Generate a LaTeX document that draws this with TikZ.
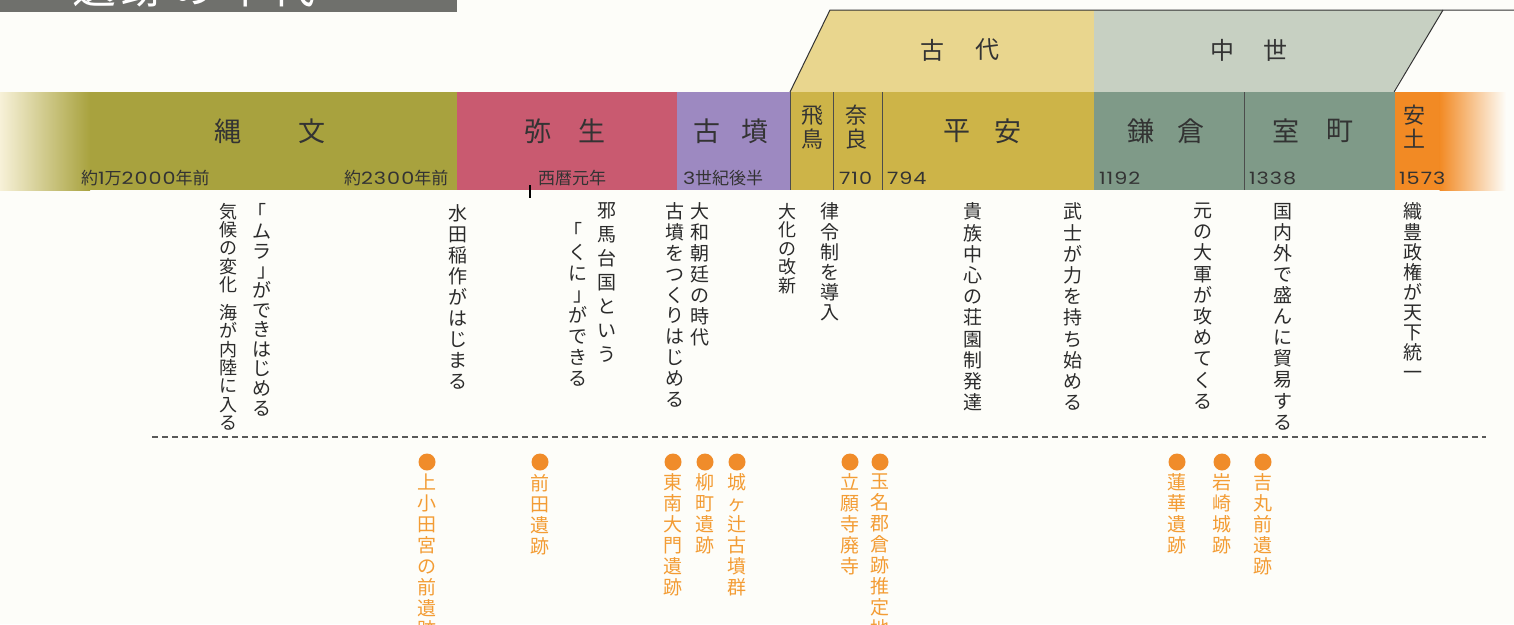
\documentclass[tikz,border=0pt]{standalone}
\usepackage{graphicx}
\usepackage{fontspec}
\newfontfamily\jp{Noto Sans CJK JP}
\newfontfamily\dig{Poppins}[LetterSpace=5]
\newcommand\yd[1]{\scalebox{1.22}[1]{\dig #1}}
\newcommand\lbr{\kern-0.5em「}
\newcommand\rbr{」\kern-0.5em}
\definecolor{bg}{HTML}{FDFDF9}
\definecolor{hdr}{HTML}{6F706C}
\definecolor{jomon}{HTML}{A8A23E}
\definecolor{jomonfade}{HTML}{F7F1D8}
\definecolor{yayoi}{HTML}{C95A70}
\definecolor{kofun}{HTML}{9D89C1}
\definecolor{kodai}{HTML}{CDB448}
\definecolor{chusei}{HTML}{7F9A88}
\definecolor{azuchi}{HTML}{F28A24}
\definecolor{kodaitop}{HTML}{E9D68E}
\definecolor{chuseitop}{HTML}{C7D0C2}
\definecolor{txt}{HTML}{333333}
\definecolor{vtxt}{HTML}{2B2B2B}
\definecolor{site}{HTML}{F39C34}
\definecolor{sitedot}{HTML}{F08C2A}
\begin{document}
\begin{tikzpicture}[x=1pt,y=-1pt,
  every node/.style={inner sep=0pt, outer sep=0pt},
  pname/.style={font=\jp\fontsize{27}{27}\selectfont, text=txt},
  pvert/.style={font=\jp\fontsize{22}{24}\selectfont, text=txt, align=center},
  eraname/.style={font=\jp\fontsize{24}{24}\selectfont, text=txt},
  yr/.style={font=\jp\fontsize{17}{17}\selectfont, text=txt, anchor=base west},
  vt/.style={font=\jp\fontsize{19}{#1}\selectfont, text=vtxt, align=center, anchor=north,
    execute at begin node=\vphantom{国}},
  st/.style={font=\jp\fontsize{19}{21}\selectfont, text=site, align=center, anchor=north,
    execute at begin node=\vphantom{国}},
  sdot/.style={circle, fill=sitedot, minimum size=17pt},
  divline/.style={draw=black!70, line width=0.8pt},
  edgeline/.style={draw=black!80, line width=1pt},
  dashline/.style={draw=black!65, line width=1.1pt, dash pattern=on 6pt off 4pt}
]
\clip (0,0) rectangle (1514,624);
\fill[bg] (0,0) rectangle (1514,624);

% header bar
\fill[hdr] (0,0) rectangle (457,12);
\begin{scope}
  \clip (0,0) rectangle (457,12);
  \node[font=\jp\fontsize{44}{44}\selectfont, text=white, anchor=base west] (hdtxt) at (72,3)
    {遺\hspace{6pt}跡\hspace{6pt}の\hspace{6pt}年\hspace{6pt}代};
\end{scope}

% era band
\fill[kodaitop] (790,92) -- (830,10) -- (1094,10) -- (1094,92) -- cycle;
\fill[chuseitop] (1094,92) -- (1094,10) -- (1443,10) -- (1393,92) -- cycle;
\draw[edgeline] (790,92) -- (830,10) -- (1514,10);
\draw[edgeline] (1443,10) -- (1394,92);
\node[eraname] (kd1) at (932,50) {古};
\node[eraname] (kd2) at (987,50) {代};
\node[eraname] (cs1) at (1222,50) {中};
\node[eraname] (cs2) at (1275,50) {世};

% main period band
\shade[left color=jomonfade, right color=jomon] (0,92) rectangle (90,190);
\fill[jomon] (89.5,92) rectangle (457,190);
\fill[yayoi] (457,92) rectangle (677,190);
\fill[kofun] (677,92) rectangle (790,190);
\fill[kodai] (790,92) rectangle (1094,190);
\fill[chusei] (1094,92) rectangle (1395,190);
\fill[azuchi] (1395,92) rectangle (1440,190);
\shade[left color=azuchi, right color=bg] (1439.5,92) rectangle (1506,190);
\draw[divline] (790,92) -- (790,190);
\draw[divline] (833,92) -- (833,190);
\draw[divline] (882,92) -- (882,190);
\draw[divline] (1244,92) -- (1244,190);

% period names
\node[pname] (jo1) at (228,131) {縄};
\node[pname] (jo2) at (312,131) {文};
\node[pname] (ya1) at (538,131) {弥};
\node[pname] (ya2) at (592,131) {生};
\node[pname] (ko1) at (707,131) {古};
\node[pname] (ko2) at (755,131) {墳};
\node[pvert] (asuka) at (812,127) {飛\\鳥};
\node[pvert] (nara) at (856,127) {奈\\良};
\node[pname] (he1) at (957,131) {平};
\node[pname] (he2) at (1008,131) {安};
\node[pname] (ka1) at (1141,131) {鎌};
\node[pname] (ka2) at (1191,131) {倉};
\node[pname] (mu1) at (1286,131) {室};
\node[pname] (mu2) at (1340,131) {町};
\node[pvert] (azu) at (1414,127) {安\\土};

% years
\node[yr] (y1) at (81,184) {約\yd{1}万\yd{2000}年前};
\node[yr] (y2) at (344,184) {約\yd{2300}年前};
\node[yr] (y3) at (538,184) {西暦元年};
\node[yr] (y4) at (683,184) {\yd{3}世紀後半};
\node[yr] (y5) at (839,184) {\yd{710}};
\node[yr] (y6) at (887,184) {\yd{794}};
\node[yr] (y7) at (1099,184) {\yd{1192}};
\node[yr] (y8) at (1249,184) {\yd{1338}};
\node[yr] (y9) at (1399,184) {\yd{1573}};
\coordinate (tickA) at (530,185);
\coordinate (tickB) at (530,198);
\draw[black, line width=1.3pt] (tickA) -- (tickB);

% events (vertical text)
\node[vt=18.3, font=\jp\fontsize{18}{18.3}\selectfont] (e1) at (228,203)
  {気\\候\\の\\変\\化\\[10pt]海\\が\\内\\陸\\に\\入\\る};
\node[vt=19.6] (e2) at (262,203) {\lbr\\ム\\ラ\\\rbr\\が\\で\\き\\は\\じ\\め\\る};
\node[vt=20.9] (e3) at (458,205) {水\\田\\稲\\作\\が\\は\\じ\\ま\\る};
\node[vt=24] (e4) at (607,203) {邪\\馬\\台\\国\\と\\い\\う};
\node[vt=21] (e5) at (578,222) {\lbr\\く\\に\\\rbr\\が\\で\\き\\る};
\node[vt=21] (e6) at (700,203) {大\\和\\朝\\廷\\の\\時\\代};
\node[vt=20.8] (e7) at (675,203) {古\\墳\\を\\つ\\く\\り\\は\\じ\\め\\る};
\node[vt=18.5, font=\jp\fontsize{18}{18.5}\selectfont] (e8) at (787,203) {大\\化\\の\\改\\新};
\node[vt=20.2] (e9) at (830,203) {律\\令\\制\\を\\導\\入};
\node[vt=21.2] (e10) at (973,203) {貴\\族\\中\\心\\の\\荘\\園\\制\\発\\達};
\node[vt=21.2] (e11) at (1073,203) {武\\士\\が\\力\\を\\持\\ち\\始\\め\\る};
\node[vt=21.2] (e12) at (1203,203) {元\\の\\大\\軍\\が\\攻\\め\\て\\く\\る};
\node[vt=21.1] (e13) at (1283,203) {国\\内\\外\\で\\盛\\ん\\に\\貿\\易\\す\\る};
\node[vt=20.1] (e14) at (1413,203) {織\\豊\\政\\権\\が\\天\\下\\統\\一};

% dashed separator
\coordinate (dl) at (152,437);
\coordinate (dr) at (1486,437);
\draw[dashline] (dl) -- (dr);

% sites
\node[sdot] (d1) at (427,462) {};
\node[st] (s1) at (427,474) {上\\小\\田\\宮\\の\\前\\遺\\跡};
\node[sdot] (d2) at (540,462) {};
\node[st] (s2) at (540,474) {前\\田\\遺\\跡};
\node[sdot] (d3) at (673,462) {};
\node[st] (s3) at (673,474) {東\\南\\大\\門\\遺\\跡};
\node[sdot] (d4) at (705,462) {};
\node[st] (s4) at (705,474) {柳\\町\\遺\\跡};
\node[sdot] (d5) at (737,462) {};
\node[st] (s5) at (737,474) {城\\ヶ\\辻\\古\\墳\\群};
\node[sdot] (d6) at (850,462) {};
\node[st] (s6) at (850,474) {立\\願\\寺\\廃\\寺};
\node[sdot] (d7) at (880,462) {};
\node[st] (s7) at (880,474) {玉\\名\\郡\\倉\\跡\\推\\定\\地};
\node[sdot] (d8) at (1177,462) {};
\node[st] (s8) at (1177,474) {蓮\\華\\遺\\跡};
\node[sdot] (d9) at (1222,462) {};
\node[st] (s9) at (1222,474) {岩\\崎\\城\\跡};
\node[sdot] (d10) at (1263,462) {};
\node[st] (s10) at (1263,474) {吉\\丸\\前\\遺\\跡};
\end{tikzpicture}
\end{document}
